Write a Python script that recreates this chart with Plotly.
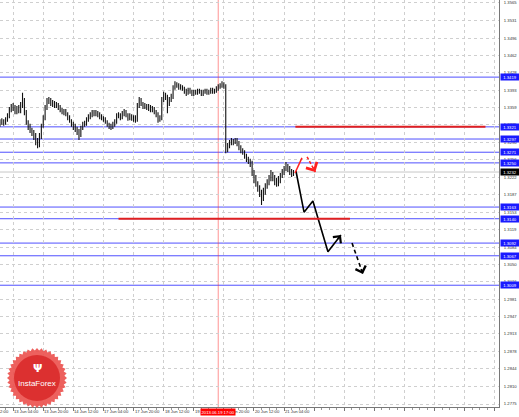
import math
import plotly.graph_objects as go

# ---------------- data ----------------
bar_index = list(range(9, 166))  # hourly bars, index 0 = 12 Jun 12:00

open_ = [
    1.3327, 1.3329, 1.3333, 1.3327, 1.3334, 1.3342, 1.3354, 1.3362, 1.3358, 1.3350,
    1.3356, 1.3352, 1.3362, 1.3374, 1.3350, 1.3331, 1.3321, 1.3315, 1.3309, 1.3303,
    1.3293, 1.3285, 1.3301, 1.3323, 1.3338, 1.3358, 1.3372, 1.3374, 1.3366, 1.3368,
    1.3362, 1.3364, 1.3360, 1.3354, 1.3350, 1.3352, 1.3346, 1.3340, 1.3333, 1.3325,
    1.3321, 1.3317, 1.3311, 1.3305, 1.3319, 1.3325, 1.3327, 1.3334, 1.3340, 1.3344,
    1.3348, 1.3350, 1.3346, 1.3348, 1.3342, 1.3338, 1.3336, 1.3331, 1.3325, 1.3323,
    1.3321, 1.3325, 1.3331, 1.3342, 1.3344, 1.3340, 1.3346, 1.3350, 1.3344, 1.3338,
    1.3342, 1.3336, 1.3340, 1.3334, 1.3362, 1.3374, 1.3366, 1.3360, 1.3362, 1.3358,
    1.3360, 1.3354, 1.3356, 1.3350, 1.3346, 1.3334, 1.3338, 1.3374, 1.3384, 1.3380,
    1.3368, 1.3374, 1.3380, 1.3398, 1.3405, 1.3403, 1.3398, 1.3401, 1.3396, 1.3392,
    1.3388, 1.3394, 1.3390, 1.3386, 1.3390, 1.3388, 1.3392, 1.3390, 1.3386, 1.3390,
    1.3392, 1.3388, 1.3390, 1.3394, 1.3390, 1.3392, 1.3396, 1.3400, 1.3401, 1.3405,
    1.3401, 1.3279, 1.3283, 1.3289, 1.3293, 1.3291, 1.3295, 1.3289, 1.3281, 1.3275,
    1.3271, 1.3264, 1.3258, 1.3254, 1.3250, 1.3232, 1.3220, 1.3208, 1.3201, 1.3191,
    1.3181, 1.3193, 1.3204, 1.3210, 1.3220, 1.3228, 1.3222, 1.3214, 1.3208, 1.3216,
    1.3224, 1.3232, 1.3238, 1.3246, 1.3240, 1.3234, 1.3228]

high = [
    1.3336, 1.3338, 1.3336, 1.3340, 1.3348, 1.3360, 1.3366, 1.3368, 1.3364, 1.3362,
    1.3364, 1.3370, 1.3388, 1.3378, 1.3354, 1.3334, 1.3327, 1.3319, 1.3315, 1.3309,
    1.3299, 1.3309, 1.3327, 1.3344, 1.3364, 1.3378, 1.3380, 1.3378, 1.3374, 1.3372,
    1.3370, 1.3368, 1.3364, 1.3358, 1.3356, 1.3356, 1.3350, 1.3344, 1.3336, 1.3331,
    1.3327, 1.3321, 1.3317, 1.3323, 1.3331, 1.3333, 1.3340, 1.3346, 1.3350, 1.3354,
    1.3354, 1.3354, 1.3352, 1.3350, 1.3346, 1.3342, 1.3340, 1.3334, 1.3329, 1.3327,
    1.3331, 1.3336, 1.3348, 1.3350, 1.3348, 1.3352, 1.3356, 1.3354, 1.3348, 1.3348,
    1.3346, 1.3344, 1.3344, 1.3368, 1.3380, 1.3378, 1.3370, 1.3368, 1.3366, 1.3366,
    1.3364, 1.3362, 1.3360, 1.3354, 1.3350, 1.3344, 1.3380, 1.3390, 1.3388, 1.3384,
    1.3380, 1.3386, 1.3403, 1.3411, 1.3409, 1.3407, 1.3405, 1.3403, 1.3400, 1.3396,
    1.3398, 1.3398, 1.3394, 1.3394, 1.3394, 1.3396, 1.3396, 1.3394, 1.3394, 1.3396,
    1.3396, 1.3394, 1.3398, 1.3398, 1.3396, 1.3401, 1.3405, 1.3407, 1.3411, 1.3409,
    1.3405, 1.3289, 1.3295, 1.3299, 1.3297, 1.3299, 1.3299, 1.3293, 1.3285, 1.3279,
    1.3275, 1.3268, 1.3262, 1.3258, 1.3254, 1.3236, 1.3226, 1.3214, 1.3206, 1.3197,
    1.3201, 1.3210, 1.3218, 1.3226, 1.3236, 1.3232, 1.3226, 1.3220, 1.3224, 1.3230,
    1.3238, 1.3244, 1.3252, 1.3248, 1.3244, 1.3238, 1.3236]

low = [
    1.3321, 1.3325, 1.3323, 1.3325, 1.3331, 1.3338, 1.3350, 1.3352, 1.3346, 1.3346,
    1.3348, 1.3348, 1.3358, 1.3344, 1.3325, 1.3315, 1.3309, 1.3303, 1.3295, 1.3285,
    1.3279, 1.3281, 1.3297, 1.3319, 1.3334, 1.3354, 1.3366, 1.3362, 1.3360, 1.3358,
    1.3358, 1.3354, 1.3350, 1.3346, 1.3344, 1.3342, 1.3334, 1.3329, 1.3321, 1.3315,
    1.3311, 1.3305, 1.3295, 1.3301, 1.3315, 1.3321, 1.3323, 1.3331, 1.3336, 1.3340,
    1.3342, 1.3342, 1.3340, 1.3336, 1.3334, 1.3331, 1.3327, 1.3321, 1.3317, 1.3315,
    1.3317, 1.3321, 1.3327, 1.3338, 1.3334, 1.3336, 1.3342, 1.3340, 1.3333, 1.3334,
    1.3333, 1.3331, 1.3329, 1.3331, 1.3358, 1.3362, 1.3356, 1.3356, 1.3354, 1.3352,
    1.3350, 1.3350, 1.3346, 1.3340, 1.3329, 1.3331, 1.3334, 1.3370, 1.3374, 1.3348,
    1.3362, 1.3370, 1.3376, 1.3394, 1.3398, 1.3394, 1.3394, 1.3392, 1.3386, 1.3382,
    1.3384, 1.3386, 1.3382, 1.3382, 1.3384, 1.3384, 1.3386, 1.3382, 1.3382, 1.3386,
    1.3384, 1.3384, 1.3386, 1.3386, 1.3386, 1.3388, 1.3392, 1.3396, 1.3398, 1.3396,
    1.3269, 1.3271, 1.3279, 1.3285, 1.3285, 1.3287, 1.3283, 1.3275, 1.3269, 1.3266,
    1.3258, 1.3252, 1.3248, 1.3242, 1.3224, 1.3210, 1.3203, 1.3193, 1.3183, 1.3167,
    1.3175, 1.3187, 1.3199, 1.3206, 1.3214, 1.3214, 1.3206, 1.3203, 1.3204, 1.3210,
    1.3220, 1.3226, 1.3234, 1.3232, 1.3226, 1.3222, 1.3224]

close = [
    1.3329, 1.3333, 1.3327, 1.3334, 1.3342, 1.3354, 1.3362, 1.3358, 1.3350, 1.3356,
    1.3352, 1.3362, 1.3374, 1.3350, 1.3331, 1.3321, 1.3315, 1.3309, 1.3303, 1.3293,
    1.3285, 1.3301, 1.3323, 1.3338, 1.3358, 1.3372, 1.3374, 1.3366, 1.3368, 1.3362,
    1.3364, 1.3360, 1.3354, 1.3350, 1.3352, 1.3346, 1.3340, 1.3333, 1.3325, 1.3321,
    1.3317, 1.3311, 1.3305, 1.3319, 1.3325, 1.3327, 1.3334, 1.3340, 1.3344, 1.3348,
    1.3350, 1.3346, 1.3348, 1.3342, 1.3338, 1.3336, 1.3331, 1.3325, 1.3323, 1.3321,
    1.3325, 1.3331, 1.3342, 1.3344, 1.3340, 1.3346, 1.3350, 1.3344, 1.3338, 1.3342,
    1.3336, 1.3340, 1.3334, 1.3362, 1.3374, 1.3366, 1.3360, 1.3362, 1.3358, 1.3360,
    1.3354, 1.3356, 1.3350, 1.3346, 1.3334, 1.3338, 1.3374, 1.3384, 1.3380, 1.3368,
    1.3374, 1.3380, 1.3398, 1.3405, 1.3403, 1.3398, 1.3401, 1.3396, 1.3392, 1.3388,
    1.3394, 1.3390, 1.3386, 1.3390, 1.3388, 1.3392, 1.3390, 1.3386, 1.3390, 1.3392,
    1.3388, 1.3390, 1.3394, 1.3390, 1.3392, 1.3396, 1.3400, 1.3401, 1.3405, 1.3401,
    1.3279, 1.3283, 1.3289, 1.3293, 1.3291, 1.3295, 1.3289, 1.3281, 1.3275, 1.3271,
    1.3264, 1.3258, 1.3254, 1.3250, 1.3232, 1.3220, 1.3208, 1.3201, 1.3191, 1.3181,
    1.3193, 1.3204, 1.3210, 1.3220, 1.3228, 1.3222, 1.3214, 1.3208, 1.3216, 1.3224,
    1.3232, 1.3238, 1.3246, 1.3240, 1.3234, 1.3228, 1.3232]

time_tick_index = [0, 16, 32, 48, 64, 80, 96, 112, 128, 144, 160]
time_tick_labels = ["12 Jun 12:00", "13 Jun 04:00", "13 Jun 20:00", "14 Jun 12:00",
                    "17 Jun 04:00", "17 Jun 20:00", "18 Jun 12:00", "19 Jun 04:00",
                    "19 Jun 20:00", "20 Jun 12:00", "21 Jun 04:00"]
grid_index = [0, 16, 32, 48, 64, 80, 96, 112, 128, 144, 160, 176, 192, 208, 224, 240, 256, 272]

price_tick_labels = ["1.3565", "1.3531", "1.3496", "1.3462", "1.3428", "1.3393", "1.3359",
                     "1.3325", "1.3290", "1.3256", "1.3222", "1.3187", "1.3153", "1.3119",
                     "1.3084", "1.3050", "1.3016", "1.2981", "1.2947", "1.2913", "1.2878",
                     "1.2844", "1.2810", "1.2775"]

blue_levels = [1.3419, 1.3321, 1.3297, 1.3271, 1.3250, 1.3163, 1.3140, 1.3092, 1.3067, 1.3009]
current_price = 1.3232

red_level_price = [1.3321, 1.3140]
red_level_from = [166, 72]
red_level_to = [267, 195]

event_index = 125
event_label = "2013.06.19 17:00"

black_solid_x = [166.3, 170.6, 175.3, 183.3, 190.2]
black_solid_y = [1.3234, 1.3153, 1.3175, 1.3075, 1.3108]
black_dash_x = [196.1, 201.9]
black_dash_y = [1.3092, 1.3031]
red_solid_x = [165.8, 169.5]
red_solid_y = [1.3230, 1.3260]
red_dash_x = [172.2, 176.6]
red_dash_y = [1.3262, 1.3232]

# ---------------- layout constants ----------------
W, H = 519, 417
ML, MR, MT, MB = 0, 20, 0, 10
PW, PH = W - ML - MR, H - MT - MB
X0, X1 = 9.03, 274.2
Y0, Y1 = 1.27691, 1.35709
FONT = "Liberation Sans, Arial, sans-serif"

fig = go.Figure()

fig.add_trace(go.Ohlc(
    x=bar_index, open=open_, high=high, low=low, close=close,
    increasing=dict(line=dict(color="#111", width=1.1)),
    decreasing=dict(line=dict(color="#111", width=1.1)),
    tickwidth=0.3, hoverinfo="skip", showlegend=False))

fig.add_trace(go.Scatter(x=black_solid_x, y=black_solid_y, mode="lines",
                         line=dict(color="black", width=1.6), hoverinfo="skip", showlegend=False))
fig.add_trace(go.Scatter(x=black_dash_x, y=black_dash_y, mode="lines",
                         line=dict(color="black", width=1.6, dash="4px,3px"), hoverinfo="skip", showlegend=False))
fig.add_trace(go.Scatter(x=red_solid_x, y=red_solid_y, mode="lines",
                         line=dict(color="#ff2020", width=1.5), hoverinfo="skip", showlegend=False))
fig.add_trace(go.Scatter(x=red_dash_x, y=red_dash_y, mode="lines",
                         line=dict(color="#ff2020", width=1.5, dash="3px,2px"), hoverinfo="skip", showlegend=False))

shapes = []
for lv in blue_levels:
    shapes.append(dict(type="line", xref="paper", x0=0, x1=1, yref="y", y0=lv, y1=lv,
                       line=dict(color="#5050ff", width=1), layer="below"))
shapes.append(dict(type="line", xref="paper", x0=0, x1=1, yref="y", y0=current_price, y1=current_price,
                   line=dict(color="#c8c8c8", width=1), layer="below"))
for p, a, b in zip(red_level_price, red_level_from, red_level_to):
    shapes.append(dict(type="line", xref="x", x0=a, x1=b, yref="y", y0=p, y1=p,
                       line=dict(color="#e02020", width=2), layer="above"))
shapes.append(dict(type="line", xref="x", x0=event_index, x1=event_index, yref="paper", y0=0, y1=1,
                   line=dict(color="rgba(255,60,60,0.55)", width=1), layer="below"))

# InstaForex badge (decorative)
cx, cy, R1, R2, NT = 37, 378, 30, 27.5, 40
pts = []
for k in range(2 * NT):
    ang = math.pi * k / NT
    rr = R1 if k % 2 == 0 else R2
    pts.append(((cx + rr * math.cos(ang)) / PW, 1 - (cy + rr * math.sin(ang)) / PH))
badge = "M " + " L ".join(f"{x:.5f},{y:.5f}" for x, y in pts) + " Z"
shapes.append(dict(type="path", xref="paper", yref="paper", path=badge,
                   fillcolor="rgba(236,84,80,0.92)", line=dict(width=0), layer="above"))
shapes.append(dict(type="circle", xref="paper", yref="paper",
                   x0=(cx - 23) / PW, x1=(cx + 23) / PW, y0=1 - (cy + 23) / PH, y1=1 - (cy - 23) / PH,
                   fillcolor="rgba(218,44,44,0.92)", line=dict(width=0), layer="above"))

annotations = []
# time labels (left-aligned at the tick, MT4 style)
for idx, lab in zip(time_tick_index, time_tick_labels):
    annotations.append(dict(text=lab, xref="paper", x=(idx - X0) / (X1 - X0), xanchor="left",
                            yref="paper", y=0, yanchor="top", yshift=-1, showarrow=False,
                            borderpad=0, font=dict(family=FONT, size=4.2, color="#333")))
annotations.append(dict(text=event_label, xref="paper", x=(event_index - X0) / (X1 - X0), xanchor="center",
                        yref="paper", y=0, yanchor="top", yshift=-1, showarrow=False, bgcolor="#ff0000",
                        borderpad=0.5, font=dict(family=FONT, size=4.2, color="white")))
# right-axis level boxes
for lv in blue_levels:
    annotations.append(dict(text=f"{lv:.4f}", xref="paper", x=1, xanchor="left", xshift=1,
                            yref="y", y=lv, yanchor="middle", showarrow=False, bgcolor="#1a1aff",
                            width=17, height=5, borderpad=0.5,
                            font=dict(family=FONT, size=4.2, color="white")))
annotations.append(dict(text=f"{current_price:.4f}", xref="paper", x=1, xanchor="left", xshift=1,
                        yref="y", y=current_price, yanchor="middle", showarrow=False, bgcolor="#000000",
                        width=17, height=5, borderpad=0.5,
                        font=dict(family=FONT, size=4.2, color="white")))

# arrow heads
pxx = PW / (X1 - X0)
pxy = PH / (Y1 - Y0)


def head(xs, ys, color, size):
    dx = (xs[-1] - xs[-2]) * pxx
    dy = -(ys[-1] - ys[-2]) * pxy
    n = math.hypot(dx, dy)
    return dict(x=xs[-1], y=ys[-1], xref="x", yref="y", showarrow=True,
                ax=-dx / n * 7, ay=-dy / n * 7, arrowhead=4, arrowsize=size,
                arrowwidth=1.5, arrowcolor=color, text="", standoff=0)


annotations.append(head(black_solid_x, black_solid_y, "black", 1.3))
annotations.append(head(black_dash_x, black_dash_y, "black", 1.4))
annotations.append(head(red_dash_x, red_dash_y, "#ff2020", 1.6))

# badge text
annotations.append(dict(text="<b>Ψ</b>", xref="paper", yref="paper", x=cx / PW, y=1 - (cy - 10) / PH,
                        xanchor="center", yanchor="middle",
                        showarrow=False, font=dict(family="DejaVu Sans", size=11, color="white")))
annotations.append(dict(text="InstaForex", xref="paper", yref="paper", x=cx / PW, y=1 - (cy + 5) / PH,
                        xanchor="center", yanchor="middle",
                        showarrow=False, font=dict(family=FONT, size=8, color="white")))

fig.update_layout(
    width=W, height=H, margin=dict(l=ML, r=MR, t=MT, b=MB),
    paper_bgcolor="white", plot_bgcolor="white", showlegend=False,
    font=dict(family=FONT, size=4, color="#333"),
    shapes=shapes, annotations=annotations)

fig.update_xaxes(range=[X0, X1], tickmode="array", tickvals=grid_index, showticklabels=False,
                 showgrid=True, gridcolor="#cfcfcf", griddash="dot", gridwidth=1,
                 ticks="outside", ticklen=3, tickcolor="#777", showline=True, linecolor="#777",
                 linewidth=1, zeroline=False, rangeslider=dict(visible=False),
                 minor=dict(ticks="outside", ticklen=1.5, tickmode="linear", tick0=0, dtick=4,
                            tickcolor="#999", showgrid=False))
fig.update_yaxes(side="right", range=[Y0, Y1], tickmode="array",
                 tickvals=[float(t) for t in price_tick_labels], ticktext=price_tick_labels,
                 showgrid=True, gridcolor="#cfcfcf", griddash="dot", gridwidth=1,
                 showline=True, linecolor="#777", linewidth=1, ticks="", ticklabelstandoff=3,
                 tickfont=dict(family=FONT, size=4.2, color="#333"), zeroline=False)

fig.write_html("out.html", config={"displayModeBar": False},
               post_script="document.body.style.margin='0';document.body.style.padding='0';")
